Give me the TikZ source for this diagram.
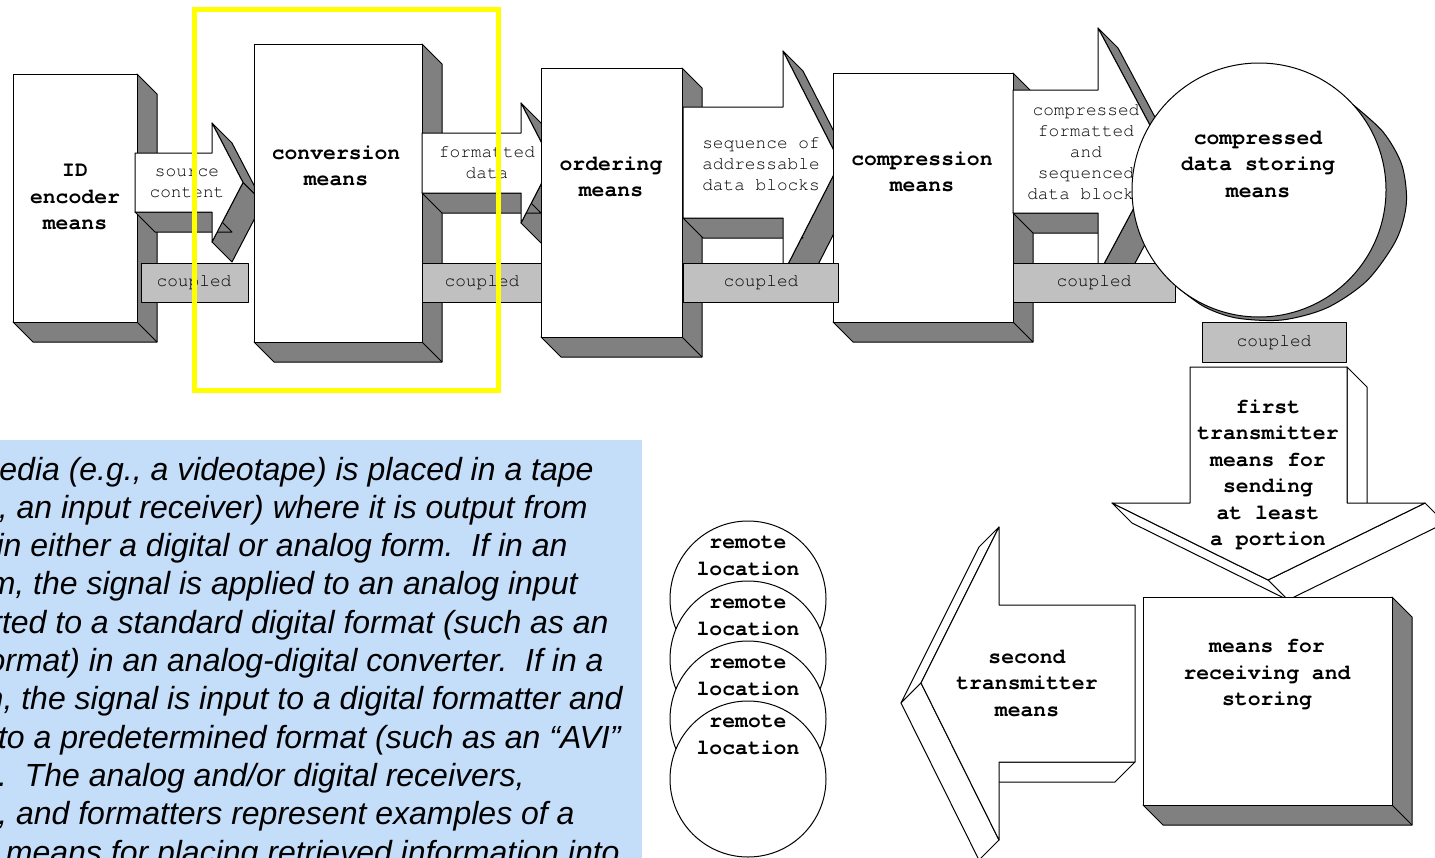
\documentclass[tikz,border=0pt]{standalone}
\usepackage{fontspec}
\newfontfamily\monof[Ligatures=NoCommon]{TeX Gyre Cursor}
\newfontfamily\sansf{Liberation Sans}
\definecolor{shd}{RGB}{128,128,128}
\definecolor{cplg}{RGB}{192,192,192}
\definecolor{txtbg}{RGB}{196,222,250}
\definecolor{hl}{RGB}{255,255,0}
\tikzset{
  outl/.style={draw=black, line width=0.5pt, line join=round},
  grayface/.style={outl, fill=shd},
  whiteface/.style={outl, fill=white},
  cplbox/.style={outl, fill=cplg},
  biglbl/.style={font=\monof\bfseries\fontsize{10.7}{13.25}\selectfont, align=center, inner sep=0pt},
  smllbl/.style={font=\monof\fontsize{8.9}{10.5}\selectfont, align=center, inner sep=0pt},
  para/.style={font=\sansf\itshape\fontsize{16}{19}\selectfont, inner sep=0pt, anchor=base east},
}
\begin{document}
\begin{tikzpicture}[x=0.5pt,y=-0.5pt]
\useasboundingbox (0,0) rectangle (1435,857);
\fill[white] (0,0) rectangle (1435,857);

% ---------- text panel ----------
\begin{scope}
\clip (0,440) rectangle (642,857);
\fill[txtbg] (-2,440) rectangle (642,860);
\node[para] (p1) at (594,480) {edia (e.g., a videotape) is placed in a tape};
\node[para] (p2) at (588,518.3) {, an input receiver) where it is output from};
\node[para] (p3) at (568,556.6) {in either a digital or analog form.\ \ If in an};
\node[para] (p4) at (578,594.9) {m, the signal is applied to an analog input};
\node[para] (p5) at (609,633.2) {rted to a standard digital format (such as an};
\node[para] (p6) at (604,671.5) {ormat) in an analog-digital converter.\ \ If in a};
\node[para] (p7) at (623,709.8) {m, the signal is input to a digital formatter and};
\node[para] (p8) at (621,748.1) {to a predetermined format (such as an “AVI”};
\node[para] (p9) at (525,786.4) {.\ \ The analog and/or digital receivers,};
\node[para] (p10) at (575,824.7) {, and formatters represent examples of a};
\node[para] (p11) at (620,863) {means for placing retrieved information into};
\end{scope}

% ---------- box 1: ID encoder ----------
\filldraw[grayface] (137,74) -- (157,94) -- (157,342) -- (33,342) -- (13,322) -- (137,322) -- cycle;
\draw[outl] (137,322) -- (157,342);
\filldraw[whiteface] (13,74) rectangle (137,322);
\node[biglbl] (idenc) at (75,197) {ID\\encoder\\means};

% ---------- arrow 1: source content ----------
\filldraw[grayface] (212,123) -- (243,182.5) -- (263,202.5) -- (232,143) -- cycle;
\filldraw[grayface] (243,182.5) -- (212,242) -- (232,262) -- (263,202.5) -- cycle;
\filldraw[grayface] (212,212) -- (135,212) -- (155,232) -- (232,232) -- cycle;
\filldraw[whiteface] (135,153) -- (212,153) -- (212,123) -- (243,182.5) -- (212,242) -- (212,212) -- (135,212) -- cycle;
\node[smllbl] (srclbl) at (187,183) {source\\content};

% ---------- box 2: conversion ----------
\filldraw[grayface] (422,44) -- (442,64) -- (442,362) -- (274,362) -- (254,342) -- (422,342) -- cycle;
\draw[outl] (422,342) -- (442,362);
\filldraw[whiteface] (254,44) rectangle (422,342);
\node[biglbl] (conv) at (336,166) {conversion\\means};

% ---------- arrow 2: formatted data ----------
\filldraw[grayface] (521,103) -- (552,163) -- (572,183) -- (541,123) -- cycle;
\filldraw[grayface] (552,163) -- (521,223) -- (541,243) -- (572,183) -- cycle;
\filldraw[grayface] (521,193) -- (422,193) -- (442,213) -- (541,213) -- cycle;
\filldraw[whiteface] (422,133) -- (521,133) -- (521,103) -- (552,163) -- (521,223) -- (521,193) -- (422,193) -- cycle;
\node[smllbl] (fmtlbl) at (487,163) {formatted\\data};

% ---------- box 3: ordering ----------
\filldraw[grayface] (682,68) -- (702,88) -- (702,357) -- (561,357) -- (541,337) -- (682,337) -- cycle;
\draw[outl] (682,337) -- (702,357);
\filldraw[whiteface] (541,68) rectangle (682,337);
\node[biglbl] (ord) at (611,177) {ordering\\means};

% ---------- arrow 3: sequence ----------
\filldraw[grayface] (783,51) -- (840,162.5) -- (860,182.5) -- (803,71) -- cycle;
\filldraw[grayface] (840,162.5) -- (783,274) -- (803,294) -- (860,182.5) -- cycle;
\filldraw[grayface] (783,218) -- (683,218) -- (703,238) -- (803,238) -- cycle;
\filldraw[whiteface] (683,107) -- (783,107) -- (783,51) -- (840,162.5) -- (783,274) -- (783,218) -- (683,218) -- cycle;
\node[smllbl] (seqlbl) at (761,164) {sequence of\\addressable\\data blocks};

% ---------- box 4: compression ----------
\filldraw[grayface] (1013,73) -- (1033,93) -- (1033,342) -- (853,342) -- (833,322) -- (1013,322) -- cycle;
\draw[outl] (1013,322) -- (1033,342);
\filldraw[whiteface] (833,73) rectangle (1013,322);
\node[biglbl] (comp) at (922,172) {compression\\means};

% ---------- coupled labels 1-3 ----------
\filldraw[cplbox] (141,263) rectangle (248,302);
\node[smllbl] (c1) at (194,283) {coupled};
\filldraw[cplbox] (422,263) rectangle (541,302);
\node[smllbl] (c2) at (482,283) {coupled};
\filldraw[cplbox] (683,263) rectangle (838,302);
\node[smllbl] (c3) at (761,283) {coupled};

% ---------- arrow 4: compressed formatted ----------
\filldraw[grayface] (1098,28) -- (1164,151.5) -- (1184,171.5) -- (1118,48) -- cycle;
\filldraw[grayface] (1164,151.5) -- (1098,275) -- (1118,295) -- (1184,171.5) -- cycle;
\filldraw[grayface] (1098,213) -- (1013,213) -- (1033,233) -- (1118,233) -- cycle;
\filldraw[whiteface] (1013,90) -- (1098,90) -- (1098,28) -- (1164,151.5) -- (1098,275) -- (1098,213) -- (1013,213) -- cycle;
\node[smllbl] (cmplbl) at (1086,152) {compressed\\formatted\\and\\sequenced\\data blocks};

\filldraw[cplbox] (1013,263) rectangle (1175,302);
\node[smllbl] (c4) at (1094,283) {coupled};

% ---------- circle: compressed data storing ----------
\filldraw[grayface] plot[smooth] coordinates {(1353.4,105.0) (1383.2,132.1) (1401.8,164.8) (1406.4,202.9) (1396.2,239.9) (1367,280.6) (1327,307.8) (1281.9,320) (1236.4,318) (1204.5,306.9) (1177.4,287.3)} -- cycle;
\filldraw[whiteface] (1259,190) circle (127);
\node[biglbl] (store) at (1258,164) {compressed\\data storing\\means};

\filldraw[cplbox] (1202,322) rectangle (1346,362);
\node[smllbl] (c5) at (1274,343) {coupled};

% ---------- first transmitter (down arrow) ----------
\filldraw[whiteface] (1347,367) -- (1367,387) -- (1367,523) -- (1347,503) -- cycle;
\filldraw[whiteface] (1425,503) -- (1445,523) -- (1288,600) -- (1268,580) -- cycle;
\filldraw[whiteface] (1268,580) -- (1288,600) -- (1132,523) -- (1112,503) -- cycle;
\filldraw[whiteface] (1190,367) -- (1347,367) -- (1347,503) -- (1425,503) -- (1268,580) -- (1112,503) -- (1190,503) -- cycle;
\node[biglbl] (tx1) at (1268,475) {first\\transmitter\\means for\\sending\\at least\\a portion};

% ---------- receiving box ----------
\filldraw[grayface] (1392,597) -- (1412,617) -- (1412,825) -- (1163,825) -- (1143,805) -- (1392,805) -- cycle;
\draw[outl] (1392,805) -- (1412,825);
\filldraw[whiteface] (1143,597) rectangle (1392,805);
\node[biglbl] (recv) at (1267,675) {means for\\receiving and\\storing};

% ---------- second transmitter (left arrow) ----------
\filldraw[whiteface] (999,527) -- (921,683) -- (901,703) -- (979,547) -- cycle;
\filldraw[whiteface] (921,683) -- (999,840) -- (979,860) -- (901,703) -- cycle;
\filldraw[whiteface] (999,762) -- (1135,762) -- (1115,782) -- (979,782) -- cycle;
\filldraw[whiteface] (1135,605) -- (999,605) -- (999,527) -- (921,683) -- (999,840) -- (999,762) -- (1135,762) -- cycle;
\node[biglbl] (tx2) at (1027,683) {second\\transmitter\\means};

% ---------- remote locations ----------
\filldraw[whiteface] (748,599) circle (78);
\node[biglbl] (r1) at (748,556) {remote\\location};
\filldraw[whiteface] (748,659) circle (78);
\node[biglbl] (r2) at (748,616) {remote\\location};
\filldraw[whiteface] (748,719) circle (78);
\node[biglbl] (r3) at (748,676) {remote\\location};
\filldraw[whiteface] (748,779) circle (78);
\node[biglbl] (r4) at (748,735) {remote\\location};

% ---------- highlight ----------
\draw[hl, line width=2.5pt] (194.5,9.5) rectangle (498.5,390.5);
\end{tikzpicture}
\end{document}
